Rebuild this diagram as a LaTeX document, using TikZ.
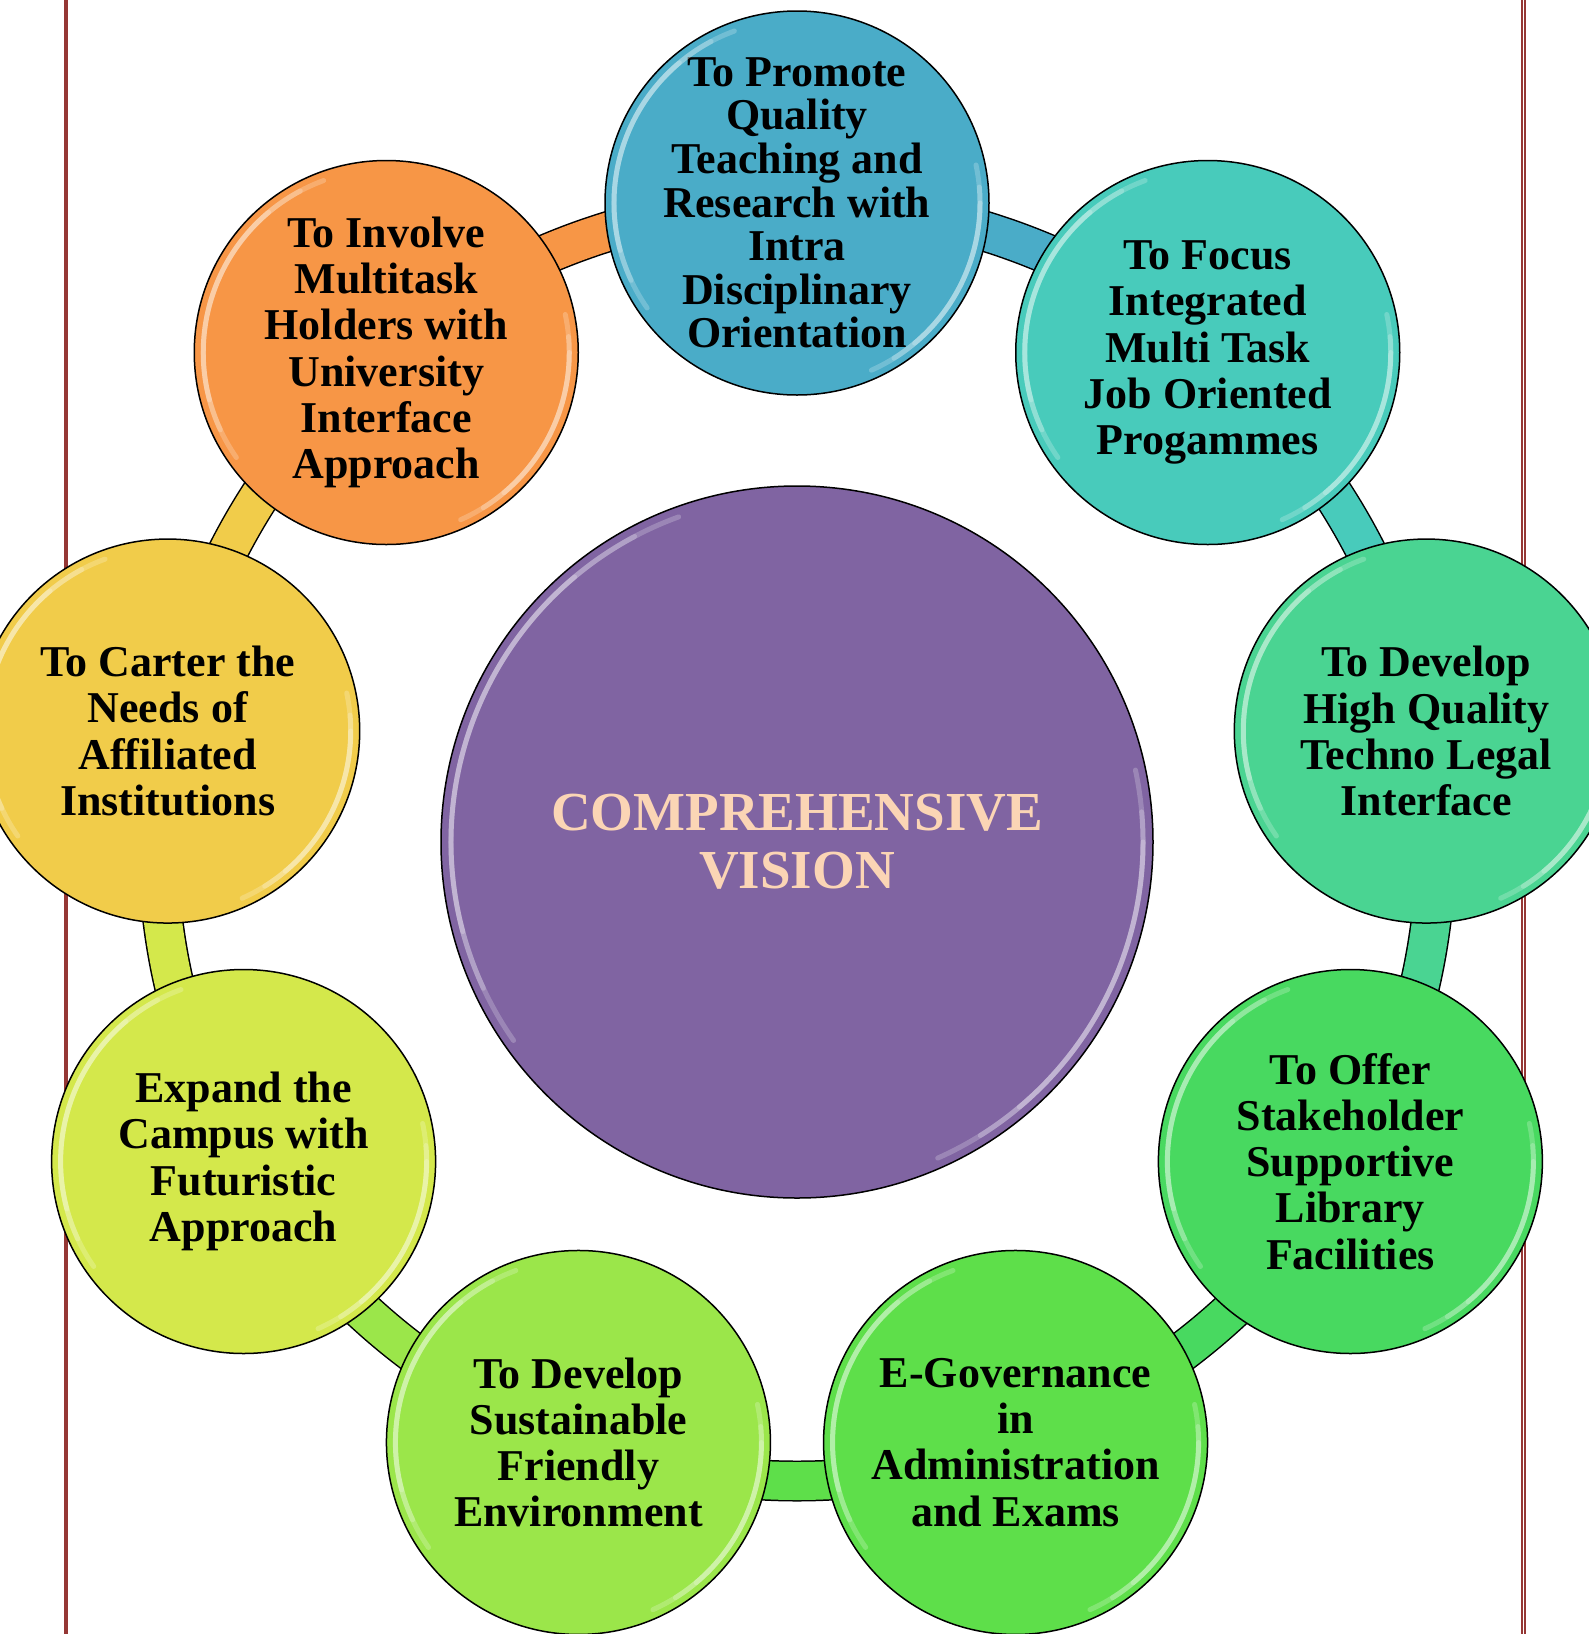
\documentclass[tikz,border=0pt]{standalone}
\usepackage{fontspec}
\setmainfont{Liberation Serif}
\usetikzlibrary{calc}
\pgfdeclarelayer{background}
\pgfsetlayers{background,main}
\definecolor{c1}{HTML}{4AACC8}
\definecolor{c2}{HTML}{48CBBB}
\definecolor{c3}{HTML}{4AD492}
\definecolor{c4}{HTML}{48D960}
\definecolor{c5}{HTML}{5EDF4A}
\definecolor{c6}{HTML}{9BE64A}
\definecolor{c7}{HTML}{D4E84B}
\definecolor{c8}{HTML}{F1CC4A}
\definecolor{c9}{HTML}{F79646}
\definecolor{ctr}{HTML}{8064A2}
\definecolor{ctxt}{HTML}{FBD5B5}
\definecolor{redline}{HTML}{953735}
\newcommand\glossarc[2]{%
  \foreach \ss/\ee in {-130/-195,-118/-205,-110/-215}{\draw[gloss] (#1.center) ++(\ss:#2) arc[start angle=\ss,end angle=\ee,radius=#2];}%
  \foreach \ss/\ee in {50/0,58/-5,66/-12}{\draw[gloss] (#1.center) ++(\ss:#2) arc[start angle=\ss,end angle=\ee,radius=#2];}%
}
\begin{document}
\begin{tikzpicture}[x=0.5pt,y=-0.5pt,
  bubble/.style={circle, draw=black, line width=0.75pt, minimum size=192pt, inner sep=0pt},
  btext/.style={align=center, text=black, inner sep=0pt, font=\fontsize{22}{23.1}\selectfont\bfseries},
  tight/.style={font=\fontsize{22}{21.8}\selectfont\bfseries},
  hub/.style={circle, draw=black, line width=0.75pt, minimum size=356pt, inner sep=0pt, align=center, fill=ctr, text=ctxt, font=\fontsize{27.5}{29}\selectfont\bfseries},
  link/.style={draw=black, line width=0.75pt, double=#1, double distance=19pt},
  gloss/.style={draw=white, line width=2.5pt, opacity=0.22, line cap=round},
  frame/.style={draw=redline}]

\useasboundingbox (0,0) rectangle (1589,1634);
\coordinate (C) at (797,842);

\node[hub] (hub) at (C) {COMPREHENSIVE\\VISION};
\node[bubble, fill=c1, label={[btext, tight]center:{To Promote\\Quality\\Teaching and\\Research with\\Intra\\Disciplinary\\Orientation}}] (n1) at ($(C)+(-90:639)$) {};
\node[bubble, fill=c2, label={[btext]center:{To Focus\\Integrated\\Multi Task\\Job Oriented\\Progammes}}] (n2) at ($(C)+(-50:639)$) {};
\node[bubble, fill=c3, label={[btext]center:{To Develop\\High Quality\\Techno Legal\\Interface}}] (n3) at ($(C)+(-10:639)$) {};
\node[bubble, fill=c4, label={[btext]center:{To Offer\\Stakeholder\\Supportive\\Library\\Facilities}}] (n4) at ($(C)+(30:639)$) {};
\node[bubble, fill=c5, label={[btext]center:{E-Governance\\in\\Administration\\and Exams}}] (n5) at ($(C)+(70:639)$) {};
\node[bubble, fill=c6, label={[btext]center:{To Develop\\Sustainable\\Friendly\\Environment}}] (n6) at ($(C)+(110:639)$) {};
\node[bubble, fill=c7, label={[btext]center:{Expand the\\Campus with\\Futuristic\\Approach}}] (n7) at ($(C)+(150:639)$) {};
\node[bubble, fill=c8, label={[btext]center:{To Carter the\\Needs of\\Affiliated\\Institutions}}] (n8) at ($(C)+(190:639)$) {};
\node[bubble, fill=c9, label={[btext]center:{To Involve\\Multitask\\Holders with\\University\\Interface\\Approach}}] (n9) at ($(C)+(230:639)$) {};

\glossarc{hub}{346}
\foreach \n in {n1,n2,n3,n4,n5,n6,n7,n8,n9}{\glossarc{\n}{183}}

\begin{pgfonlayer}{background}
\draw[frame, line width=0.45pt] (64.3,0) -- (64.3,1634);
\draw[frame, line width=1.2pt] (66.6,0) -- (66.6,1634);
\draw[frame, line width=0.85pt] (1521.8,0) -- (1521.8,1634);
\draw[frame, line width=0.85pt] (1524.8,0) -- (1524.8,1634);
\draw[link=c1] (n1.center) arc[start angle=-90, end angle=-50, radius=639];
\draw[link=c2] (n2.center) arc[start angle=-50, end angle=-10, radius=639];
\draw[link=c3] (n3.center) arc[start angle=-10, end angle=30, radius=639];
\draw[link=c4] (n4.center) arc[start angle=30, end angle=70, radius=639];
\draw[link=c5] (n5.center) arc[start angle=70, end angle=110, radius=639];
\draw[link=c6] (n6.center) arc[start angle=110, end angle=150, radius=639];
\draw[link=c7] (n7.center) arc[start angle=150, end angle=190, radius=639];
\draw[link=c8] (n8.center) arc[start angle=190, end angle=230, radius=639];
\draw[link=c9] (n9.center) arc[start angle=230, end angle=270, radius=639];
\end{pgfonlayer}
\end{tikzpicture}
\end{document}
